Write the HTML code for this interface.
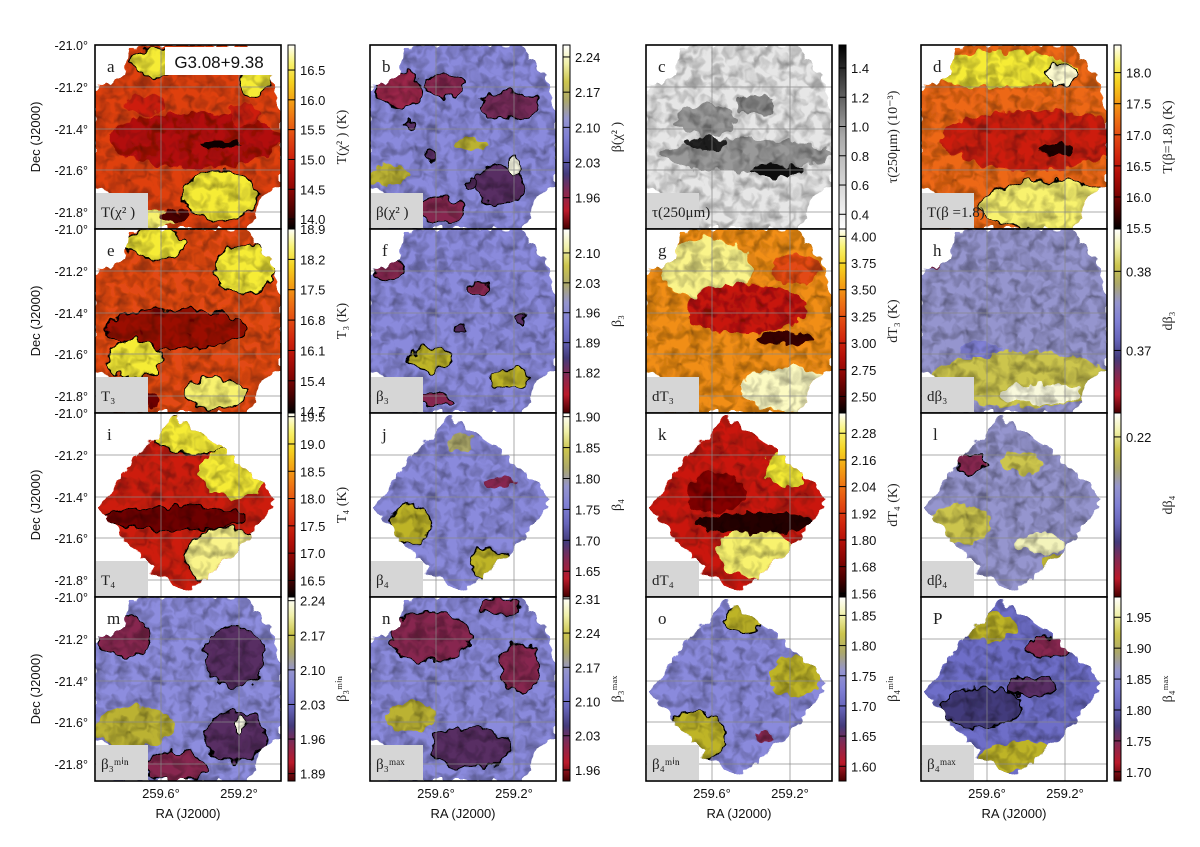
<!DOCTYPE html>
<html><head><meta charset="utf-8"><style>
html,body{margin:0;padding:0;background:#fff;}
svg text{font-family:"Liberation Sans",sans-serif;}
.serif{font-family:"Liberation Serif",serif;}
</style></head><body>
<svg id="fig" width="1200" height="842" viewBox="0 0 1200 842" xmlns="http://www.w3.org/2000/svg">
<defs>
<filter id="noise" x="0" y="0" width="100%" height="100%">
<feTurbulence type="fractalNoise" baseFrequency="0.09" numOctaves="2" seed="3" result="t"/>
<feColorMatrix in="t" type="matrix" values="0 0 0 0 0  0 0 0 0 0  0 0 0 0 0  1.8 0 0 0 -0.7"/>
</filter>
<filter id="wobble" x="-20%" y="-20%" width="140%" height="140%">
<feTurbulence type="fractalNoise" baseFrequency="0.09" numOctaves="2" seed="7" result="t"/>
<feDisplacementMap in="SourceGraphic" in2="t" scale="14" xChannelSelector="R" yChannelSelector="G"/>
</filter>
</defs>
</svg>
<script>
var colX=[95,370,646,921];
var rowY=[45,229,413,597];
var PW=186, PH=184;
var yTickLabels=["-21.0°","-21.2°","-21.4°","-21.6°","-21.8°"];
var yTickOffsets=[0,42,84,125,167];
var xTickLabels=["259.6°","259.2°"];
var xTickOffsets=[66,144];
var cbTicks={
a:["16.5","16.0","15.5","15.0","14.5","14.0"],b:["2.24","2.17","2.10","2.03","1.96"],
c:["1.4","1.2","1.0","0.8","0.6","0.4"],d:["18.0","17.5","17.0","16.5","16.0","15.5"],
e:["18.9","18.2","17.5","16.8","16.1","15.4","14.7"],f:["2.10","2.03","1.96","1.89","1.82"],
g:["4.00","3.75","3.50","3.25","3.00","2.75","2.50"],h:["0.38","0.37"],
i:["19.5","19.0","18.5","18.0","17.5","17.0","16.5"],j:["1.90","1.85","1.80","1.75","1.70","1.65"],
k:["2.28","2.16","2.04","1.92","1.80","1.68","1.56"],l:["0.22"],
m:["2.24","2.17","2.10","2.03","1.96","1.89"],n:["2.31","2.24","2.17","2.10","2.03","1.96"],
o:["1.85","1.80","1.75","1.70","1.65","1.60"],p:["1.95","1.90","1.85","1.80","1.75","1.70"]};
var cbRange={a:[0.136,0.946],b:[0.065,0.83],c:[0.125,0.92],d:[0.15,0.995],e:[0.0,0.99],f:[0.13,0.78],
g:[0.04,0.91],h:[0.23,0.66],i:[0.02,0.91],j:[0.02,0.86],k:[0.11,0.98],l:[0.13,0.13],
m:[0.02,0.96],n:[0.01,0.94],o:[0.1,0.92],p:[0.11,0.95]};
var cbTitle={a:"T(χ² ) (K)",b:"β(χ² )",c:"τ(250μm) (10⁻³)",d:"T(β=1.8) (K)",e:"T₃ (K)",f:"β₃",
g:"dT₃ (K)",h:"dβ₃",i:"T₄ (K)",j:"β₄",k:"dT₄ (K)",l:"dβ₄",m:"β₃ᵐⁱⁿ",n:"β₃ᵐᵃˣ",o:"β₄ᵐⁱⁿ",p:"β₄ᵐᵃˣ"};
var boxLabel={a:"T(χ² )",b:"β(χ² )",c:"τ(250μm)",d:"T(β =1.8)",e:"T₃",f:"β₃",g:"dT₃",h:"dβ₃",
i:"T₄",j:"β₄",k:"dT₄",l:"dβ₄",m:"β₃ᵐⁱⁿ",n:"β₃ᵐᵃˣ",o:"β₄ᵐⁱⁿ",p:"β₄ᵐᵃˣ"};
var cmapOf={a:"hot",b:"beta",c:"gray",d:"hot",e:"hot",f:"beta",g:"hot",h:"beta",i:"hot",j:"beta",k:"hot",l:"beta",m:"beta",n:"beta",o:"beta",p:"beta"};
var shapeOf={a:"round",b:"round",c:"round",d:"round",e:"round",f:"round",g:"round",h:"round",i:"dia",j:"dia",k:"dia",l:"dia",m:"round",n:"round",o:"dia",p:"dia"};
var baseT={a:0.48,b:0.55,c:0.15,d:0.58,e:0.5,f:0.55,g:0.66,h:0.6,i:0.38,j:0.55,k:0.36,l:0.6,m:0.56,n:0.55,o:0.55,p:0.42};
var blobs={
a:[[100,95,85,28,0.3,0],[125,100,20,5,0.02,0],[60,18,25,14,0.86,1],[125,150,38,25,0.86,1],[160,35,15,15,0.86,1],[40,175,40,12,0.9,0],[80,170,15,6,0.1,0],[50,60,20,10,0.38,0],[150,70,15,10,0.38,0]],
b:[[30,45,22,18,0.18,1],[75,40,20,12,0.2,1],[140,60,30,14,0.22,1],[130,140,25,20,0.25,1],[70,165,25,12,0.2,1],[145,120,6,10,0.97,1],[20,130,20,10,0.75,0],[100,100,15,6,0.75,0],[60,110,5,5,0.25,1],[100,140,6,5,0.25,1],[40,80,5,4,0.25,1]],
c:[[100,110,85,16,0.55,0],[60,75,30,15,0.55,0],[130,125,25,6,0.95,0],[60,98,20,8,0.9,0],[110,60,20,10,0.6,0]],
d:[[110,95,90,30,0.38,0],[135,105,18,6,0.04,0],[80,25,75,18,0.86,0],[130,160,70,25,0.9,1],[140,30,15,12,0.97,1]],
e:[[80,100,70,20,0.25,1],[150,40,30,25,0.86,1],[60,15,30,15,0.86,1],[40,130,28,18,0.86,1],[25,170,40,12,0.15,0],[120,165,30,15,0.9,1]],
f:[[60,130,22,12,0.76,1],[140,150,20,10,0.76,1],[20,40,15,10,0.2,1],[60,170,20,6,0.2,1],[110,60,10,6,0.2,1],[90,100,5,4,0.25,1],[150,90,5,5,0.25,1]],
g:[[60,40,45,30,0.92,0],[140,160,45,22,0.96,0],[100,80,60,25,0.35,0],[140,110,30,6,0.08,0],[30,165,22,5,0.05,0],[150,40,25,15,0.5,0]],
h:[[100,150,90,28,0.8,0],[120,165,40,10,0.96,0],[10,30,10,10,0.2,0],[60,120,20,8,0.5,0]],
i:[[100,22,40,20,0.86,1],[140,60,35,25,0.86,0],[130,145,40,30,0.92,1],[80,105,70,12,0.15,1],[35,160,15,10,0.9,0]],
j:[[40,110,20,20,0.76,1],[120,150,20,15,0.76,1],[130,70,15,5,0.2,0],[90,30,12,10,0.7,0]],
k:[[110,140,40,25,0.9,0],[140,55,20,20,0.86,0],[110,110,60,10,0.05,0],[70,80,30,20,0.2,0]],
l:[[40,110,30,20,0.8,0],[120,130,25,10,0.92,0],[100,50,20,10,0.8,0],[50,50,15,10,0.2,1],[140,150,20,10,0.75,0]],
m:[[30,40,25,20,0.2,1],[140,60,30,30,0.25,1],[140,140,30,25,0.25,1],[80,170,30,15,0.2,1],[40,130,40,20,0.75,0],[145,130,6,10,0.97,1]],
n:[[60,40,40,25,0.2,1],[150,70,20,25,0.2,1],[100,150,40,20,0.25,1],[40,120,25,15,0.75,0],[130,10,20,8,0.2,1]],
o:[[50,140,30,25,0.76,1],[100,20,20,15,0.76,1],[150,80,25,20,0.76,0],[120,140,10,6,0.2,0]],
p:[[130,50,25,10,0.2,1],[110,90,25,10,0.25,1],[100,160,40,15,0.76,0],[70,30,25,15,0.76,0],[60,110,40,20,0.3,1]]};
var letters="abcdefghijklmnop";

function lerp(a,b,t){return Math.round(a+(b-a)*t);}
function ramp(stops,t){t=Math.max(0,Math.min(1,t));for(var i=1;i<stops.length;i++){if(t<=stops[i][0]){var s=stops[i-1],e=stops[i],u=(t-s[0])/(e[0]-s[0]);return "rgb("+lerp(s[1][0],e[1][0],u)+","+lerp(s[1][1],e[1][1],u)+","+lerp(s[1][2],e[1][2],u)+")";}}var l=stops[stops.length-1][1];return "rgb("+l+")";}
var CM={
hot:[[0,[0,0,0]],[0.15,[110,0,0]],[0.35,[200,20,10]],[0.55,[235,90,20]],[0.72,[245,170,20]],[0.85,[245,235,40]],[1,[255,255,250]]],
beta:[[0,[70,0,0]],[0.12,[210,30,50]],[0.28,[60,50,110]],[0.42,[110,110,200]],[0.58,[145,145,225]],[0.66,[160,160,150]],[0.76,[190,180,40]],[0.9,[240,240,170]],[1,[255,255,255]]],
gray:[[0,[255,255,255]],[0.5,[170,170,170]],[1,[0,0,0]]]};

var NS="http://www.w3.org/2000/svg";
var svg=document.getElementById('fig');
function el(tag,attrs,parent,txt){var e=document.createElementNS(NS,tag);for(var k in attrs)e.setAttribute(k,attrs[k]);if(txt!==undefined)e.textContent=txt;(parent||svg).appendChild(e);return e;}
var defs=svg.querySelector('defs');
var SHAPES={round:"M35,2 L150,0 L166,20 L180,40 L186,70 L186,140 L166,150 L160,175 L150,184 L20,184 L15,148 L0,142 L0,45 L30,30 Z",
dia:"M81,3 L120,30 L180,84 L150,130 L95,180 L60,160 L3,94 L40,45 Z"};

for(var idx=0;idx<16;idx++){
  var L=letters[idx], col=idx%4, row=Math.floor(idx/4);
  var x0=colX[col], y0=rowY[row];
  var g=el('g',{transform:'translate('+x0+','+y0+')'});
  
  
  var cp=el('clipPath',{id:'clip'+L},defs);
  el('path',{d:SHAPES[shapeOf[L]]},cp);
  var cp2=el('clipPath',{id:'box'+L},defs);
  el('rect',{x:0,y:0,width:PW,height:PH},cp2);
  el('rect',{x:0,y:0,width:PW,height:PH,fill:'#fff'},g);
  var outer=el('g',{'clip-path':'url(#box'+L+')'},g);
  var mg=el('g',{filter:'url(#wobble)'},outer);
  var m=el('g',{'clip-path':'url(#clip'+L+')'},mg);
  
  
  var cm=CM[cmapOf[L]];
  el('rect',{x:-10,y:-10,width:PW+20,height:PH+20,fill:ramp(cm,baseT[L])},m);
  var bl=blobs[L];
  for(var b=0;b<bl.length;b++){
    var B=bl[b];
    el('ellipse',{cx:B[0],cy:B[1],rx:B[2],ry:B[3],fill:ramp(cm,B[4]),stroke:B[5]?'#000':'none','stroke-width':1.3},m);
  }
  el('rect',{x:0,y:0,width:PW,height:PH,filter:'url(#noise)',opacity:0.45},m);
  for(var i=0;i<2;i++){el('line',{x1:xTickOffsets[i],y1:0,x2:xTickOffsets[i],y2:PH,stroke:'#888','stroke-width':1,opacity:0.7},g);}
  for(var j=1;j<5;j++){el('line',{x1:0,y1:yTickOffsets[j],x2:PW,y2:yTickOffsets[j],stroke:'#888','stroke-width':1,opacity:0.7},g);}
  var lb=el('rect',{x:1,y:148,width:52,height:35,fill:'#d6d6d6'},g);
  
  
  el('text',{x:6,y:172,'font-size':15,class:'serif',fill:'#222'},g,boxLabel[L]);
  el('text',{x:12,y:27,'font-size':17,class:'serif',fill:'#222'},g,L==='p'?'P':L);
  el('rect',{x:0,y:0,width:PW,height:PH,fill:'none',stroke:'#000','stroke-width':1.6},g);
  var cbx=x0+PW+7;
  var gid='grad'+L;
  var gr=el('linearGradient',{id:gid,x1:0,y1:1,x2:0,y2:0},defs);
  for(var s=0;s<=10;s++){el('stop',{offset:s/10,'stop-color':ramp(cm,s/10)},gr);}
  var cb=el('rect',{x:cbx,y:y0,width:7,height:PH,fill:'url(#'+gid+')',stroke:'#000','stroke-width':1});
  
  
  var tk=cbTicks[L], rg=cbRange[L];
  for(var t=0;t<tk.length;t++){
    var f=tk.length>1?rg[0]+(rg[1]-rg[0])*t/(tk.length-1):rg[0];
    var ty=y0+f*PH;
    el('line',{x1:cbx,y1:ty,x2:cbx+7,y2:ty,stroke:'#000','stroke-width':1});
    var tl=el('text',{x:cbx+12,y:ty+5,'font-size':13,fill:'#111'},null,tk[t]);
    
    
  }
  var tx=cbx+58, tyc=y0+PH/2;
  var ct=el('text',{x:tx,y:tyc,'font-size':14,class:'serif',fill:'#222','text-anchor':'middle',transform:'rotate(-90 '+tx+' '+tyc+')'},null,cbTitle[L]);
  
  
  if(col===0){
    for(var j2=0;j2<5;j2++){
      var yl=el('text',{x:88,y:y0+yTickOffsets[j2]+5,'font-size':12.5,'text-anchor':'end',fill:'#111'},null,yTickLabels[j2]);
      
      
    }
    var dx=40, dy=y0+PH/2;
    var dl=el('text',{x:dx,y:dy,'font-size':13,'text-anchor':'middle',fill:'#111',transform:'rotate(-90 '+dx+' '+dy+')'},null,"Dec (J2000)");
    
    
  }
  if(row===3){
    for(var i2=0;i2<2;i2++){
      var xl=el('text',{x:x0+xTickOffsets[i2],y:y0+PH+17,'font-size':13,'text-anchor':'middle',fill:'#111'},null,xTickLabels[i2]);
      
      
    }
    var ra=el('text',{x:x0+PW/2,y:y0+PH+37,'font-size':13,'text-anchor':'middle',fill:'#111'},null,"RA (J2000)");
    
    
  }
}
var tb=el('rect',{x:colX[0]+70,y:rowY[0]+2,width:108,height:28,fill:'#fff'});


var tt=el('text',{x:colX[0]+124,y:rowY[0]+23,'font-size':17,'text-anchor':'middle',fill:'#111'},null,"G3.08+9.38");


</script>
</body></html>
